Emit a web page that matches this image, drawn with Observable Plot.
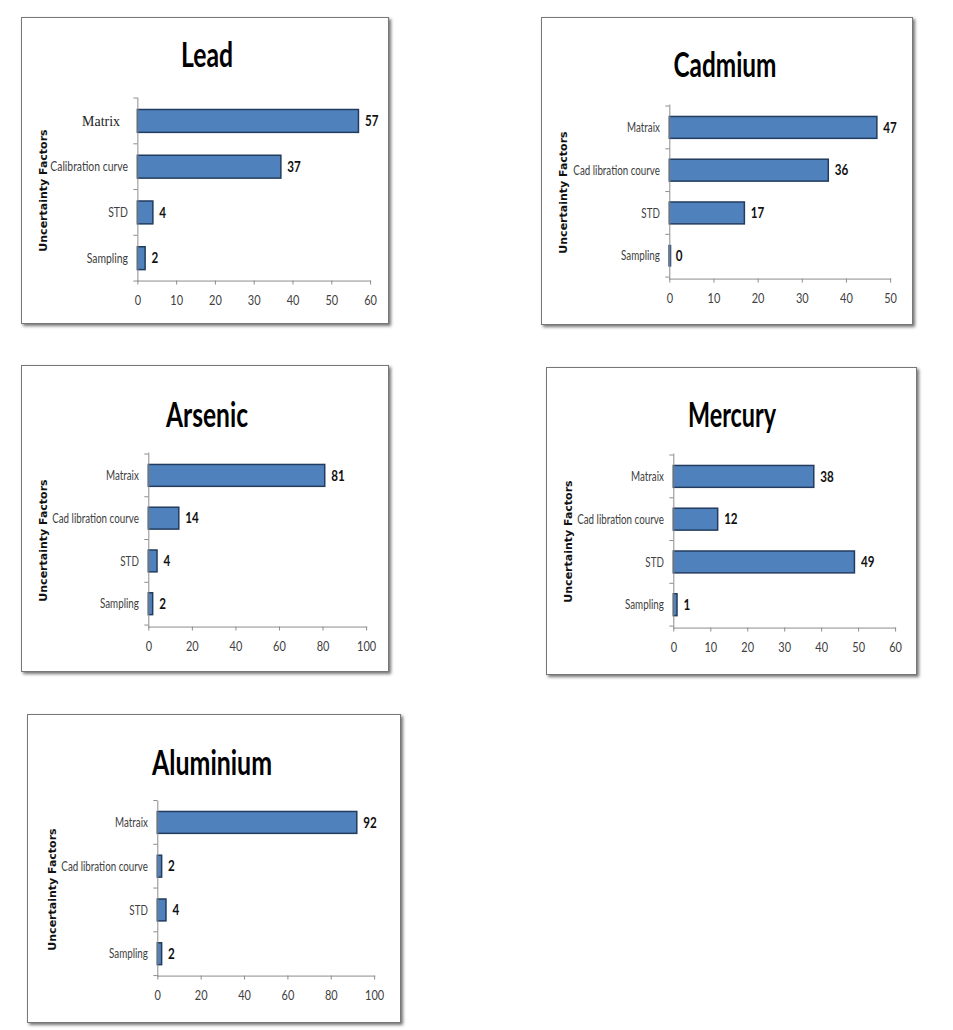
<!DOCTYPE html>
<html>
<head>
<meta charset="utf-8">
<script src="https://cdn.jsdelivr.net/npm/d3@7"></script>
<script src="https://cdn.jsdelivr.net/npm/@observablehq/plot@0.6"></script>
<style>
  html, body { margin: 0; padding: 0; background: #fff; }
  body { width: 953px; height: 1030px; position: relative; overflow: hidden; }
  .panel { position: absolute; box-sizing: border-box; background: #fff;
           border: 1px solid #777; box-shadow: 2px 2px 3px rgba(0,0,0,0.55); }
  .panel svg { position: absolute; left: -1px; top: -1px; overflow: visible; }
  .title { position: absolute; width: 300px; text-align: center; line-height: 1;
           font-family: Lato, "DejaVu Sans Condensed", sans-serif;
           font-weight: bold; font-size: 34px; color: #000;
           transform-origin: center; white-space: nowrap; }
  .title span { display: inline-block; }
  .ylab { position: absolute; width: 200px; text-align: center; line-height: 1;
          font-family: "DejaVu Sans", sans-serif; font-weight: bold; font-size: 11px; color: #111;
          transform: rotate(-90deg); transform-origin: center; white-space: nowrap; }
</style>
</head>
<body>
<script>
// ---- data ----
const leadFactors = ["Matrix", "Calibration curve", "STD", "Sampling"];
const otherFactors = ["Matraix", "Cad libration courve", "STD", "Sampling"];
const leadValues = [57, 37, 4, 2];
const cadmiumValues = [47, 36, 17, 0];
const arsenicValues = [81, 14, 4, 2];
const mercuryValues = [38, 12, 49, 1];
const aluminiumValues = [92, 2, 4, 2];
const ticks60 = [0, 10, 20, 30, 40, 50, 60];
const ticks50 = [0, 10, 20, 30, 40, 50];
const ticks100 = [0, 20, 40, 60, 80, 100];
const yLabel = "Uncertainty Factors";

// ---- layout (page pixels) ----
const panels = [
  {title: "Lead", factors: leadFactors, values: leadValues, ticks: ticks60,
   box: [21, 17, 389, 324], plot: [138, 372, 98, 282], head: [207, 67, 52], labelX: 43, catWidth: 78},
  {title: "Cadmium", factors: otherFactors, values: cadmiumValues, ticks: ticks50,
   box: [541, 17, 913, 325], plot: [670, 892, 105, 280], head: [725, 77, 103], labelX: 563, catWidth: 87},
  {title: "Arsenic", factors: otherFactors, values: arsenicValues, ticks: ticks100,
   box: [21, 365, 389, 672], plot: [149, 368, 453, 628], head: [207, 427, 82], labelX: 43, catWidth: 87},
  {title: "Mercury", factors: otherFactors, values: mercuryValues, ticks: ticks60,
   box: [546, 367, 917, 675], plot: [674, 897, 454, 629], head: [732, 427, 88], labelX: 568, catWidth: 87},
  {title: "Aluminium", factors: otherFactors, values: aluminiumValues, ticks: ticks100,
   box: [27, 714, 401, 1023], plot: [158, 376, 801, 977], head: [212, 775, 120], labelX: 52, catWidth: 87}
];

const FONT = 'Lato, "DejaVu Sans Condensed", sans-serif';

function boundaryTicks(factors) {
  return (index, scales, values, dimensions) => {
    const y = scales.y;
    const bw = typeof y.bandwidth === "function" ? y.bandwidth() : 0;
    const step = typeof y.step === "function" ? y.step() : (y(factors[1]) - y(factors[0]));
    const gap = (step - bw) / 2;
    const x0 = dimensions.marginLeft;
    const g = d3.create("svg:g").attr("stroke", "#8c8c8c").attr("stroke-width", 1);
    const ys = factors.map(f => y(f) - gap);
    ys.push(y(factors[factors.length - 1]) + bw + gap);
    for (const yy of ys) {
      g.append("line").attr("x1", x0 - 4).attr("x2", x0).attr("y1", yy).attr("y2", yy);
    }
    return g.node();
  };
}

// narrow text horizontally around its anchor point (text stays real text);
// only the x attribute is moved into the transform, y / dy are left untouched
function squish(sel, s) {
  sel.each(function () {
    const el = d3.select(this);
    const xa = el.attr("x");
    const x = xa !== null && isFinite(+xa) ? +xa : 0;
    if (xa !== null && isFinite(+xa)) el.attr("x", null);
    const T = el.attr("transform") || "";
    el.attr("transform", `${T} translate(${x},0) scale(${s},1)`);
  });
}

for (const p of panels) {
  const [l, t, r, b] = p.box;
  const [x0, x1, yTop, yBottom] = p.plot;
  const div = document.createElement("div");
  div.className = "panel";
  div.style.left = l + "px";
  div.style.top = t + "px";
  div.style.width = (r - l) + "px";
  div.style.height = (b - t) + "px";
  document.body.appendChild(div);

  const title = document.createElement("div");
  title.className = "title";
  const span = document.createElement("span");
  span.textContent = p.title;
  title.appendChild(span);
  title.style.left = (p.head[0] - l - 1 - 150) + "px";
  title.style.top = (p.head[1] - t - 1 - 30) + "px";
  div.appendChild(title);
  const tw = span.getBoundingClientRect().width;
  title.style.transform = `scaleX(${p.head[2] / tw})`;

  const data = p.factors.map((f, i) => ({factor: f, value: p.values[i]}));

  const chart = Plot.plot({
    width: r - l,
    height: b - t,
    marginLeft: x0 - l,
    marginRight: r - x1,
    marginTop: yTop - t,
    marginBottom: b - yBottom,
    style: {fontFamily: FONT, background: "transparent", overflow: "visible"},
    x: {domain: [p.ticks[0], p.ticks[p.ticks.length - 1]]},
    y: {domain: p.factors, paddingInner: 0.5, paddingOuter: 0.25},
    marks: [
      Plot.barX(data, {x: "value", y: "factor", fill: "#4f81bd", stroke: "#223b5e", strokeWidth: 1.5}),
      Plot.tickX(data.filter(d => d.value === 0), {x: "value", y: "factor", stroke: "#2c4d7a", strokeWidth: 3}),
      Plot.text(data, {x: "value", y: "factor", text: d => String(d.value), dx: 6, textAnchor: "start",
                       fontWeight: "bold", fontSize: 15, fill: "#111"}),
      Plot.frame({anchor: "left", stroke: "#8c8c8c", strokeOpacity: 1}),
      Plot.frame({anchor: "bottom", stroke: "#8c8c8c", strokeOpacity: 1}),
      boundaryTicks(p.factors),
      Plot.axisX({ticks: p.ticks, tickSize: 4, tickPadding: 11, fontSize: 13, stroke: "#8c8c8c", fill: "#404040", label: null}),
      Plot.axisY({tickSize: 0, tickPadding: 10, fontSize: 13, fill: "#404040", label: null})
    ]
  });
  div.appendChild(chart);

  const svg = d3.select(chart);
  squish(svg.selectAll('g[aria-label="text"] text'), 0.78);
  squish(svg.selectAll('g[aria-label="x-axis tick label"] text'), 0.85);
  const yTexts = svg.selectAll('g[aria-label="y-axis tick label"] text')
    .filter(function () { return this.textContent !== "Matrix"; });
  let maxLen = 0;
  yTexts.each(function () { maxLen = Math.max(maxLen, this.getComputedTextLength()); });
  if (maxLen > 0) squish(yTexts, p.catWidth / maxLen);

  if (p.title === "Lead") {
    svg.selectAll('g[aria-label="y-axis tick label"] text')
      .filter(function () { return this.textContent === "Matrix"; })
      .attr("font-family", '"Liberation Serif", serif')
      .attr("font-size", 14)
      .attr("dx", -8)
      .attr("fill", "#222");
  }

  const yl = document.createElement("div");
  yl.className = "ylab";
  yl.textContent = yLabel;
  yl.style.left = (p.labelX - l - 1 - 100) + "px";
  yl.style.top = ((yTop + yBottom) / 2 - t - 1 - 5.5) + "px";
  div.appendChild(yl);
}
</script>
</body>
</html>
